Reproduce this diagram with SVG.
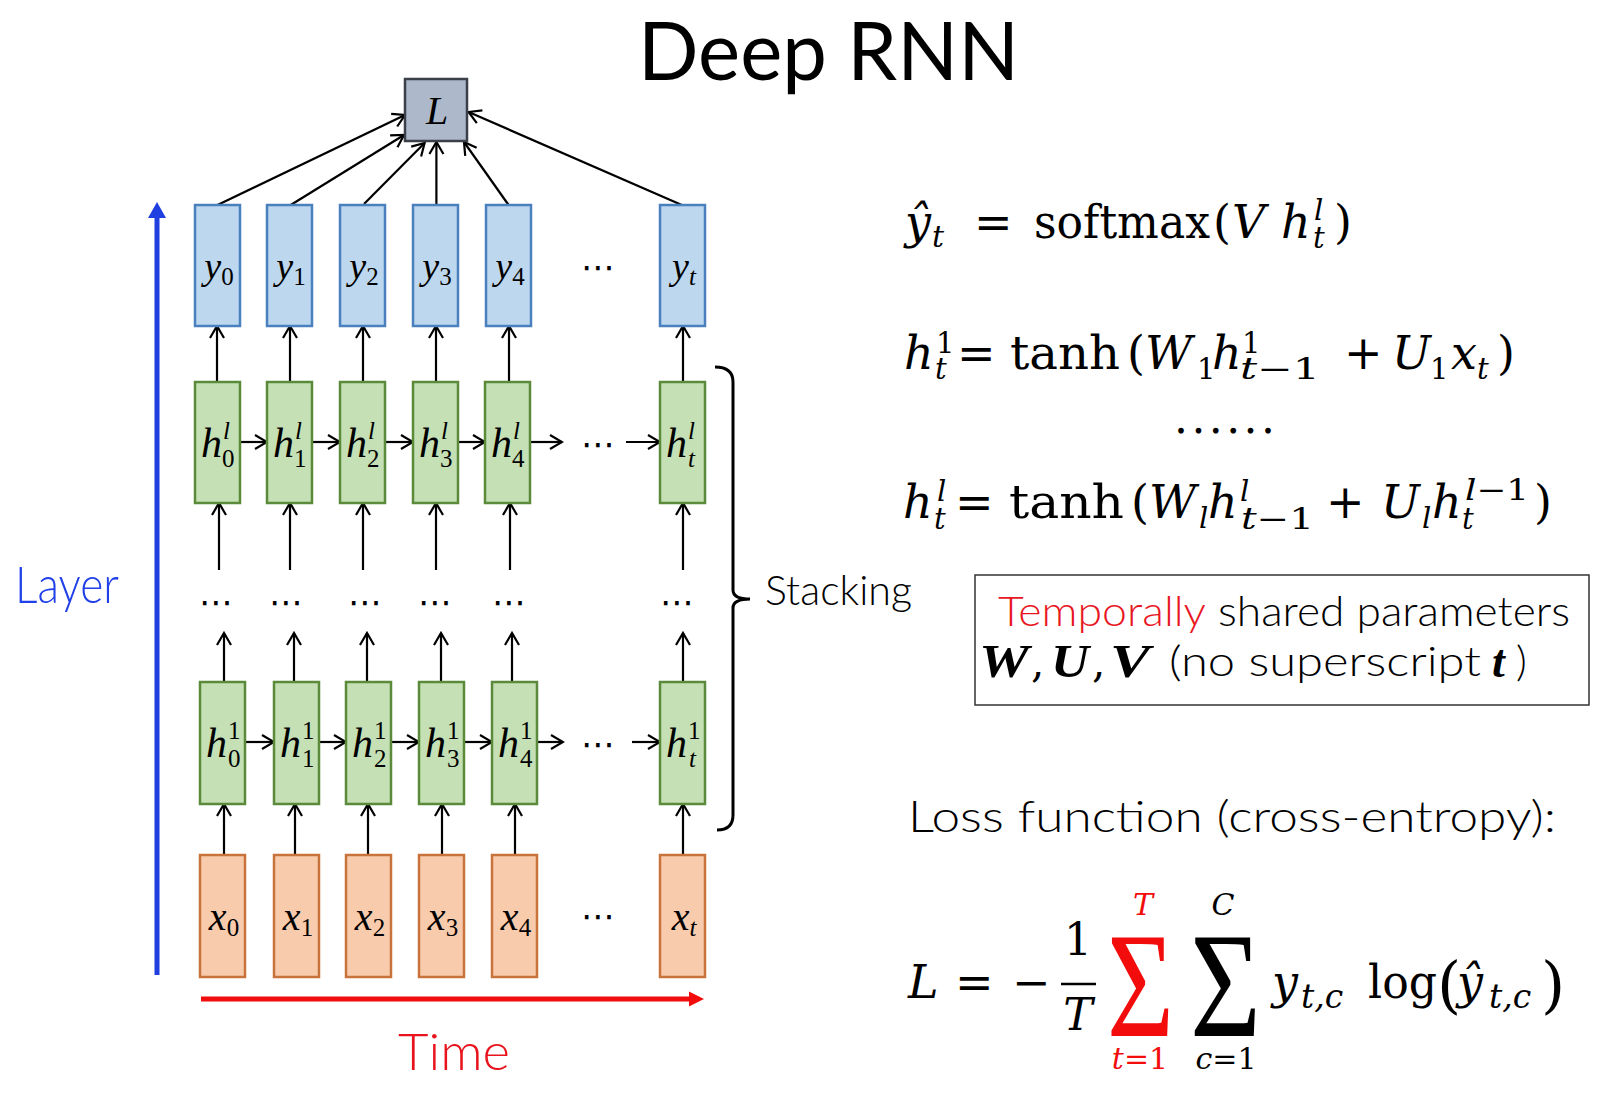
<svg xmlns="http://www.w3.org/2000/svg" width="1617" height="1093" viewBox="0 0 1617 1093">
<style>
.sans{font-family:Lato,"Liberation Sans",sans-serif;font-weight:300}
.m{font-family:"DejaVu Serif","Liberation Serif",serif}
.mi{font-family:"DejaVu Serif","Liberation Serif",serif;font-style:italic}
.bl{font-family:"Liberation Serif","DejaVu Serif",serif;font-style:italic}
.bi{font-family:"Liberation Serif","DejaVu Serif",serif;font-style:italic;font-weight:bold}
.up{font-style:normal}
.yb{fill:#bdd7ee;stroke:#4a80bd;stroke-width:2.5}
.hb{fill:#c5e0b4;stroke:#5a8a3a;stroke-width:2.5}
.xb{fill:#f8cbad;stroke:#c8733b;stroke-width:2.5}
.lb{fill:#adb9ca;stroke:#3a3f48;stroke-width:2.5}
.c line{stroke:#000;stroke-width:2.2;marker-end:url(#ah)}
.dots{font-family:"DejaVu Sans",sans-serif;font-size:34px}
</style>
<defs>
<marker id="ah" markerUnits="userSpaceOnUse" markerWidth="16" markerHeight="18" refX="14" refY="9" orient="auto">
<path d="M2,2 L14,9 L2,16" fill="none" stroke="#000" stroke-width="2.2"/>
</marker>
</defs>
<rect width="1617" height="1093" fill="#fff"/>

<text id="title" class="sans" x="638" y="80" font-size="82" style="font-weight:400" textLength="381" lengthAdjust="spacingAndGlyphs">Deep RNN</text>

<!-- axes -->
<g id="layer-axis">
<line x1="157" y1="975" x2="157" y2="214" stroke="#1f3fe0" stroke-width="5"/>
<polygon points="148,218 157,202 166,218" fill="#1f3fe0"/>
<text class="sans" x="15" y="603" font-size="52" fill="#2140e8" textLength="104" lengthAdjust="spacingAndGlyphs">Layer</text>
</g>
<g id="time-axis">
<line x1="201" y1="999" x2="692" y2="999" stroke="#f20c0c" stroke-width="5"/>
<polygon points="689,991.5 704,999 689,1006.5" fill="#f20c0c"/>
<text class="sans" x="398" y="1070" font-size="52" fill="#e8131c" textLength="112" lengthAdjust="spacingAndGlyphs">Time</text>
</g>

<!-- connectors -->
<g id="connectors" class="c">
<line x1="217.5" y1="205" x2="405" y2="115"/>
<line x1="290.7" y1="205" x2="404" y2="135"/>
<line x1="364" y1="204" x2="424.6" y2="143"/>
<line x1="436.4" y1="205" x2="436.4" y2="142"/>
<line x1="508.6" y1="205" x2="464" y2="142"/>
<line x1="681.8" y1="205" x2="468.6" y2="112"/>

<line x1="217" y1="382" x2="217" y2="326"/>
<line x1="290" y1="382" x2="290" y2="326"/>
<line x1="363" y1="382" x2="363" y2="326"/>
<line x1="436" y1="382" x2="436" y2="326"/>
<line x1="509" y1="382" x2="509" y2="326"/>
<line x1="683" y1="382" x2="683" y2="326"/>

<line x1="219" y1="570" x2="219" y2="503"/>
<line x1="290" y1="570" x2="290" y2="503"/>
<line x1="363" y1="570" x2="363" y2="503"/>
<line x1="436" y1="570" x2="436" y2="503"/>
<line x1="510" y1="570" x2="510" y2="503"/>
<line x1="683" y1="570" x2="683" y2="503"/>

<line x1="224" y1="682" x2="224" y2="633"/>
<line x1="294" y1="682" x2="294" y2="633"/>
<line x1="367" y1="682" x2="367" y2="633"/>
<line x1="441" y1="682" x2="441" y2="633"/>
<line x1="512" y1="682" x2="512" y2="633"/>
<line x1="683" y1="682" x2="683" y2="633"/>

<line x1="224" y1="855" x2="224" y2="804"/>
<line x1="295" y1="855" x2="295" y2="804"/>
<line x1="368" y1="855" x2="368" y2="804"/>
<line x1="442" y1="855" x2="442" y2="804"/>
<line x1="515" y1="855" x2="515" y2="804"/>
<line x1="683" y1="855" x2="683" y2="804"/>

<line x1="240" y1="442" x2="267" y2="442"/>
<line x1="312" y1="442" x2="340" y2="442"/>
<line x1="385" y1="442" x2="413" y2="442"/>
<line x1="458" y1="442" x2="485" y2="442"/>
<line x1="530" y1="442" x2="562" y2="442"/>
<line x1="626" y1="442" x2="660" y2="442"/>

<line x1="245" y1="742" x2="274" y2="742"/>
<line x1="319" y1="742" x2="346" y2="742"/>
<line x1="391" y1="742" x2="419" y2="742"/>
<line x1="464" y1="742" x2="492" y2="742"/>
<line x1="537" y1="742" x2="563" y2="742"/>
<line x1="632" y1="742" x2="660" y2="742"/>
</g>

<!-- L node -->
<g id="node-L"><rect class="lb" x="405" y="79" width="62" height="62"/><text class="bl" x="437" y="124" font-size="40" text-anchor="middle">L</text></g>

<!-- output row -->
<g id="node-y0"><rect class="yb" x="195" y="205" width="45" height="121"/><text class="bl" x="219" y="279" font-size="38" text-anchor="middle">y<tspan class="up" font-size="25" dy="6">0</tspan></text></g>
<g id="node-y1"><rect class="yb" x="267" y="205" width="45" height="121"/><text class="bl" x="291" y="279" font-size="38" text-anchor="middle">y<tspan class="up" font-size="25" dy="6">1</tspan></text></g>
<g id="node-y2"><rect class="yb" x="340" y="205" width="45" height="121"/><text class="bl" x="364" y="279" font-size="38" text-anchor="middle">y<tspan class="up" font-size="25" dy="6">2</tspan></text></g>
<g id="node-y3"><rect class="yb" x="413" y="205" width="45" height="121"/><text class="bl" x="437" y="279" font-size="38" text-anchor="middle">y<tspan class="up" font-size="25" dy="6">3</tspan></text></g>
<g id="node-y4"><rect class="yb" x="486" y="205" width="45" height="121"/><text class="bl" x="510" y="279" font-size="38" text-anchor="middle">y<tspan class="up" font-size="25" dy="6">4</tspan></text></g>
<g id="node-yt"><rect class="yb" x="660" y="205" width="45" height="121"/><text class="bl" x="684" y="279" font-size="38" text-anchor="middle">y<tspan font-size="25" dy="6">t</tspan></text></g>
<text class="dots" x="598" y="279" text-anchor="middle">⋯</text>

<!-- top hidden layer -->
<g id="node-hl0"><rect class="hb" x="195" y="382" width="45" height="121"/><text class="bl" x="201" y="457" font-size="42">h</text><text class="bl" x="223" y="439" font-size="25">l</text><text class="bl up" x="222" y="467" font-size="25">0</text></g>
<g id="node-hl1"><rect class="hb" x="267" y="382" width="45" height="121"/><text class="bl" x="273" y="457" font-size="42">h</text><text class="bl" x="295" y="439" font-size="25">l</text><text class="bl up" x="294" y="467" font-size="25">1</text></g>
<g id="node-hl2"><rect class="hb" x="340" y="382" width="45" height="121"/><text class="bl" x="346" y="457" font-size="42">h</text><text class="bl" x="368" y="439" font-size="25">l</text><text class="bl up" x="367" y="467" font-size="25">2</text></g>
<g id="node-hl3"><rect class="hb" x="413" y="382" width="45" height="121"/><text class="bl" x="419" y="457" font-size="42">h</text><text class="bl" x="441" y="439" font-size="25">l</text><text class="bl up" x="440" y="467" font-size="25">3</text></g>
<g id="node-hl4"><rect class="hb" x="485" y="382" width="45" height="121"/><text class="bl" x="491" y="457" font-size="42">h</text><text class="bl" x="513" y="439" font-size="25">l</text><text class="bl up" x="512" y="467" font-size="25">4</text></g>
<g id="node-hlt"><rect class="hb" x="660" y="382" width="45" height="121"/><text class="bl" x="666" y="457" font-size="42">h</text><text class="bl" x="688" y="439" font-size="25">l</text><text class="bl" x="688" y="467" font-size="25">t</text></g>
<text class="dots" x="598" y="456" text-anchor="middle">⋯</text>

<!-- middle dots -->
<g id="dots-middle" class="dots" text-anchor="middle">
<text x="216" y="614">⋯</text><text x="286" y="614">⋯</text><text x="365" y="614">⋯</text><text x="435" y="614">⋯</text><text x="509" y="614">⋯</text><text x="677" y="614">⋯</text>
</g>

<!-- first hidden layer -->
<g id="node-h10"><rect class="hb" x="200" y="682" width="45" height="122"/><text class="bl" x="206" y="757" font-size="42">h</text><text class="bl up" x="228" y="739" font-size="25">1</text><text class="bl up" x="228" y="767" font-size="25">0</text></g>
<g id="node-h11"><rect class="hb" x="274" y="682" width="45" height="122"/><text class="bl" x="280" y="757" font-size="42">h</text><text class="bl up" x="302" y="739" font-size="25">1</text><text class="bl up" x="302" y="767" font-size="25">1</text></g>
<g id="node-h12"><rect class="hb" x="346" y="682" width="45" height="122"/><text class="bl" x="352" y="757" font-size="42">h</text><text class="bl up" x="374" y="739" font-size="25">1</text><text class="bl up" x="374" y="767" font-size="25">2</text></g>
<g id="node-h13"><rect class="hb" x="419" y="682" width="45" height="122"/><text class="bl" x="425" y="757" font-size="42">h</text><text class="bl up" x="447" y="739" font-size="25">1</text><text class="bl up" x="447" y="767" font-size="25">3</text></g>
<g id="node-h14"><rect class="hb" x="492" y="682" width="45" height="122"/><text class="bl" x="498" y="757" font-size="42">h</text><text class="bl up" x="520" y="739" font-size="25">1</text><text class="bl up" x="520" y="767" font-size="25">4</text></g>
<g id="node-h1t"><rect class="hb" x="660" y="682" width="45" height="122"/><text class="bl" x="666" y="757" font-size="42">h</text><text class="bl up" x="688" y="739" font-size="25">1</text><text class="bl" x="689" y="767" font-size="25">t</text></g>
<text class="dots" x="598" y="756" text-anchor="middle">⋯</text>

<!-- input row -->
<g id="node-x0"><rect class="xb" x="200" y="855" width="45" height="122"/><text class="bl" x="224" y="930" font-size="40" text-anchor="middle">x<tspan class="up" font-size="25" dy="6">0</tspan></text></g>
<g id="node-x1"><rect class="xb" x="274" y="855" width="45" height="122"/><text class="bl" x="298" y="930" font-size="40" text-anchor="middle">x<tspan class="up" font-size="25" dy="6">1</tspan></text></g>
<g id="node-x2"><rect class="xb" x="346" y="855" width="45" height="122"/><text class="bl" x="370" y="930" font-size="40" text-anchor="middle">x<tspan class="up" font-size="25" dy="6">2</tspan></text></g>
<g id="node-x3"><rect class="xb" x="419" y="855" width="45" height="122"/><text class="bl" x="443" y="930" font-size="40" text-anchor="middle">x<tspan class="up" font-size="25" dy="6">3</tspan></text></g>
<g id="node-x4"><rect class="xb" x="492" y="855" width="45" height="122"/><text class="bl" x="516" y="930" font-size="40" text-anchor="middle">x<tspan class="up" font-size="25" dy="6">4</tspan></text></g>
<g id="node-xt"><rect class="xb" x="660" y="855" width="45" height="122"/><text class="bl" x="684" y="930" font-size="40" text-anchor="middle">x<tspan font-size="25" dy="6">t</tspan></text></g>
<text class="dots" x="598" y="928" text-anchor="middle">⋯</text>

<!-- stacking brace -->
<g id="stacking">
<path d="M715,367 Q733,367 733,382 L733,590 Q733,599 750,599 Q733,599 733,608 L733,815 Q733,830 717,830" fill="none" stroke="#000" stroke-width="3"/>
<text class="sans" x="765" y="605" font-size="42" textLength="147" lengthAdjust="spacingAndGlyphs">Stacking</text>
</g>

<!-- equations -->
<g id="eq-output">
<text class="mi" x="905" y="238" font-size="46">ŷ</text>
<text class="mi" x="932" y="247" font-size="30">t</text>
<text class="m" x="974" y="238" font-size="46">=</text>
<text class="m" x="1034" y="238" font-size="46" textLength="176" lengthAdjust="spacingAndGlyphs">softmax</text>
<text class="m" x="1213" y="238" font-size="46">(</text>
<text class="mi" x="1232" y="238" font-size="46">V</text>
<text class="mi" x="1281" y="238" font-size="46">h</text>
<text class="mi" x="1314" y="220" font-size="29">l</text>
<text class="mi" x="1313" y="248" font-size="29">t</text>
<text class="m" x="1334" y="238" font-size="46">)</text>
</g>

<g id="eq-h1">
<text class="mi" x="904" y="369" font-size="46">h</text>
<text class="m" x="936" y="353" font-size="29">1</text>
<text class="mi" x="935" y="379" font-size="29">t</text>
<text class="m" x="957" y="369" font-size="46">=</text>
<text class="m" x="1010" y="369" font-size="46" textLength="110" lengthAdjust="spacingAndGlyphs">tanh</text>
<text class="m" x="1127" y="369" font-size="46">(</text>
<text class="mi" x="1145" y="369" font-size="46">W</text>
<text class="m" x="1197" y="379" font-size="29">1</text>
<text class="mi" x="1212" y="369" font-size="46">h</text>
<text class="m" x="1242" y="353" font-size="29">1</text>
<text class="mi" x="1240" y="379" font-size="29" textLength="80" lengthAdjust="spacingAndGlyphs">t<tspan class="up">−1</tspan></text>
<text class="m" x="1344" y="369" font-size="46">+</text>
<text class="mi" x="1392" y="369" font-size="46">U</text>
<text class="m" x="1430" y="379" font-size="29">1</text>
<text class="mi" x="1451" y="369" font-size="46">x</text>
<text class="mi" x="1477" y="379" font-size="29">t</text>
<text class="m" x="1497" y="369" font-size="46">)</text>
</g>

<text id="eq-dots" class="m" x="1174" y="433" font-size="44" textLength="101" lengthAdjust="spacing">......</text>

<g id="eq-hl">
<text class="mi" x="903" y="518" font-size="46">h</text>
<text class="mi" x="937" y="501" font-size="29">l</text>
<text class="mi" x="934" y="529" font-size="29">t</text>
<text class="m" x="955" y="518" font-size="46">=</text>
<text class="m" x="1009" y="518" font-size="46" textLength="115" lengthAdjust="spacingAndGlyphs">tanh</text>
<text class="m" x="1131" y="518" font-size="46">(</text>
<text class="mi" x="1149" y="518" font-size="46">W</text>
<text class="mi" x="1199" y="528" font-size="29">l</text>
<text class="mi" x="1208" y="518" font-size="46">h</text>
<text class="mi" x="1240" y="501" font-size="29">l</text>
<text class="mi" x="1241" y="529" font-size="29" textLength="73" lengthAdjust="spacingAndGlyphs">t<tspan class="up">−1</tspan></text>
<text class="m" x="1326" y="518" font-size="46">+</text>
<text class="mi" x="1381" y="518" font-size="46">U</text>
<text class="mi" x="1422" y="528" font-size="29">l</text>
<text class="mi" x="1432" y="518" font-size="46">h</text>
<text class="mi" x="1465" y="500" font-size="29" textLength="64" lengthAdjust="spacingAndGlyphs">l<tspan class="up">−1</tspan></text>
<text class="mi" x="1462" y="529" font-size="29">t</text>
<text class="m" x="1534" y="518" font-size="46">)</text>
</g>

<!-- shared params box -->
<g id="note-box">
<rect x="975" y="575" width="614" height="130" fill="#fff" stroke="#333" stroke-width="1.5"/>
<text class="sans" x="998" y="626" font-size="42" fill="#e8171f" textLength="208" lengthAdjust="spacingAndGlyphs">Temporally</text>
<text class="sans" x="1218" y="626" font-size="42" textLength="352" lengthAdjust="spacingAndGlyphs">shared parameters</text>
<text class="bi" x="979" y="677" font-size="46" textLength="50" lengthAdjust="spacingAndGlyphs">W</text>
<text class="m" x="1031" y="677" font-size="42">,</text>
<text class="bi" x="1051" y="677" font-size="46" textLength="38" lengthAdjust="spacingAndGlyphs">U</text>
<text class="m" x="1092" y="677" font-size="42">,</text>
<text class="bi" x="1110" y="677" font-size="46" textLength="40" lengthAdjust="spacingAndGlyphs">V</text>
<text class="sans" x="1169" y="676" font-size="42" textLength="312" lengthAdjust="spacingAndGlyphs">(no superscript</text>
<text class="bi" x="1492" y="677" font-size="46">t</text>
<text class="sans" x="1516" y="676" font-size="42">)</text>
</g>

<!-- loss -->
<text id="loss-title" class="sans" x="908" y="832" font-size="44" textLength="648" lengthAdjust="spacingAndGlyphs">Loss function (cross-entropy):</text>
<g id="eq-loss">
<text class="mi" x="908" y="998" font-size="46">L</text>
<text class="m" x="955" y="998" font-size="46">=</text>
<text class="m" x="1012" y="998" font-size="46">−</text>
<text class="m" x="1078" y="955" font-size="44" text-anchor="middle">1</text>
<line x1="1061" y1="984" x2="1096" y2="984" stroke="#000" stroke-width="2.5"/>
<text class="mi" x="1078" y="1030" font-size="44" text-anchor="middle">T</text>
<text x="1107" y="1036" font-family="Liberation Serif,serif" font-size="150" fill="#f20c0c" textLength="67" lengthAdjust="spacingAndGlyphs">Σ</text>
<text class="mi" x="1143" y="915" font-size="30" fill="#f20c0c" text-anchor="middle">T</text>
<text class="mi" x="1140" y="1069" font-size="30" fill="#f20c0c" text-anchor="middle">t<tspan class="up">=1</tspan></text>
<text x="1190" y="1036" font-family="Liberation Serif,serif" font-size="150" textLength="71" lengthAdjust="spacingAndGlyphs">Σ</text>
<text class="mi" x="1223" y="915" font-size="30" text-anchor="middle">C</text>
<text class="mi" x="1226" y="1069" font-size="30" text-anchor="middle">c<tspan class="up">=1</tspan></text>
<text class="mi" x="1272" y="998" font-size="46">y</text>
<text class="mi" x="1301" y="1008" font-size="33">t,c</text>
<text class="m" x="1368" y="998" font-size="46" textLength="69" lengthAdjust="spacingAndGlyphs">log</text>
<text class="m" x="1437" y="1006" font-size="62">(</text>
<text class="mi" x="1457" y="998" font-size="46">ŷ</text>
<text class="mi" x="1489" y="1008" font-size="33">t,c</text>
<text class="m" x="1541" y="1006" font-size="62">)</text>
</g>
</svg>
